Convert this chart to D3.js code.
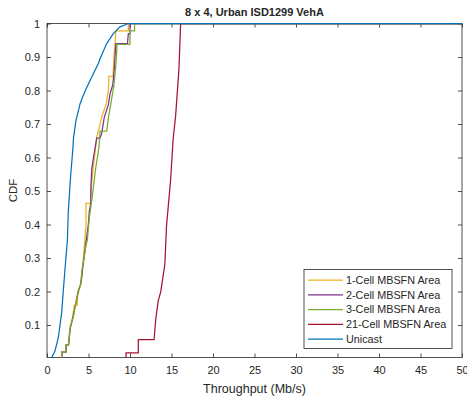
<!DOCTYPE html>
<html>
<head>
<meta charset="utf-8">
<script src="https://cdn.jsdelivr.net/npm/d3@7"></script>
<style>
  body { margin: 0; background: #fff; }
  svg text { font-family: "Liberation Sans", Arial, sans-serif; fill: #262626; }
</style>
</head>
<body>
<div id="chart"></div>
<script>
// each series: [throughput Mb/s, CDF] knots
var oneCell = [[0,0],[1.75,0],[1.75,0.019],[2.3,0.019],[2.3,0.041],[2.6,0.041],[2.75,0.09],[3.05,0.12],
  [3.3,0.159],[3.65,0.159],[3.7,0.19],[3.95,0.21],[4.2,0.245],[4.45,0.32],[4.7,0.40],[4.7,0.463],
  [5.27,0.463],[5.3,0.50],[5.58,0.572],[5.99,0.661],[6.3,0.69],[6.59,0.721],[7.1,0.757],[7.4,0.80],
  [7.45,0.842],[7.95,0.842],[8.1,0.916],[8.2,0.941],[8.3,0.978],[9.8,0.978],[9.8,1],[50,1]];
var twoCell = [[0,0],[1.8,0],[1.8,0.019],[2.3,0.019],[2.3,0.041],[2.6,0.041],[2.8,0.09],[3.15,0.125],
  [3.55,0.175],[3.8,0.205],[4.1,0.225],[4.3,0.27],[4.55,0.32],[4.86,0.378],[4.98,0.40],[5.1,0.44],
  [5.27,0.463],[5.3,0.52],[5.4,0.567],[5.6,0.60],[5.99,0.658],[6.39,0.658],[6.59,0.672],[6.9,0.72],
  [7.39,0.757],[7.6,0.79],[7.92,0.817],[8.1,0.86],[8.2,0.90],[8.3,0.94],[9.7,0.94],[9.8,0.97],
  [10.0,0.97],[10.0,1],[50,1]];
var threeCell = [[0,0],[1.77,0],[1.77,0.019],[2.29,0.019],[2.29,0.041],[2.57,0.041],[2.77,0.09],
  [3.17,0.124],[3.58,0.179],[3.77,0.203],[4.06,0.22],[4.18,0.259],[4.46,0.298],[4.70,0.338],
  [4.86,0.353],[5.1,0.42],[5.5,0.492],[5.85,0.565],[6.27,0.632],[6.39,0.679],[7.2,0.679],[7.4,0.72],
  [7.67,0.757],[8.07,0.817],[8.28,0.87],[8.45,0.938],[10.0,0.938],[10.0,0.978],[10.55,0.978],
  [10.55,1],[50,1]];
var cell21 = [[0,0],[9.52,0],[9.52,0.017],[11.0,0.017],[11.0,0.056],[12.9,0.056],[13.1,0.117],
  [13.4,0.172],[13.7,0.199],[14.2,0.281],[14.4,0.396],[14.9,0.536],[15.2,0.656],[15.5,0.725],
  [15.9,0.865],[16.1,1],[50,1]];
var unicast = [[0,0],[0.16,0],[0.57,0.003],[0.96,0.022],[1.36,0.062],[1.77,0.137],[1.96,0.202],
  [2.25,0.292],[2.45,0.35],[2.57,0.44],[2.86,0.55],[3.1,0.62],[3.2,0.66],[3.49,0.71],[3.98,0.76],
  [4.37,0.785],[4.8,0.81],[5.58,0.85],[6.18,0.88],[6.39,0.895],[7.19,0.94],[7.99,0.97],[8.8,0.99],
  [9.8,1],[50,1]];

var seriesNames  = ["1-Cell MBSFN Area", "2-Cell MBSFN Area", "3-Cell MBSFN Area", "21-Cell MBSFN Area", "Unicast"];
var seriesColors = ["#EDB120", "#7E2F8E", "#77AC30", "#A2142F", "#0072BD"];
var seriesData   = [oneCell, twoCell, threeCell, cell21, unicast];
var xTicks = [0, 5, 10, 15, 20, 25, 30, 35, 40, 45, 50];
var yTicks = [0.1, 0.2, 0.3, 0.4, 0.5, 0.6, 0.7, 0.8, 0.9, 1];

var W = 467, H = 400;
var margin = { top: 23.5, right: 5, bottom: 42.5, left: 47 };
var iW = W - margin.left - margin.right;
var iH = H - margin.top - margin.bottom;

var svg = d3.select("#chart").append("svg")
    .attr("width", W).attr("height", H);
var g = svg.append("g")
    .attr("transform", "translate(" + margin.left + "," + margin.top + ")");

var x = d3.scaleLinear().domain([0, 50]).range([0, iW]);
var y = d3.scaleLinear().domain([0.003, 1]).range([iH, 0]);

g.append("defs").append("clipPath").attr("id", "clip")
  .append("rect").attr("x", 0).attr("y", -1).attr("width", iW).attr("height", iH + 1);

// axes (ticks inside, box on)
var axCol = "#262626";
function styleAxis(sel) {
    sel.select(".domain").remove();
    sel.selectAll("line").attr("stroke", axCol).attr("stroke-width", 0.8);
    sel.selectAll("text").style("font-size", "11px").attr("fill", axCol);
}
g.append("g").attr("transform", "translate(0," + iH + ")")
  .call(d3.axisBottom(x).tickValues(xTicks).tickSize(-4).tickPadding(9).tickFormat(d3.format("d")))
  .call(styleAxis);
g.append("g")
  .call(d3.axisTop(x).tickValues(xTicks).tickSize(-4).tickFormat(""))
  .call(styleAxis);
g.append("g")
  .call(d3.axisLeft(y).tickValues(yTicks).tickSize(-4).tickPadding(7).tickFormat(function (v) { return v === 1 ? "1" : d3.format(".1f")(v); }))
  .call(styleAxis);
g.append("g").attr("transform", "translate(" + iW + ",0)")
  .call(d3.axisRight(y).tickValues(yTicks).tickSize(-4).tickFormat(""))
  .call(styleAxis);

g.append("rect")
  .attr("width", iW).attr("height", iH)
  .attr("fill", "none").attr("stroke", axCol).attr("stroke-width", 0.8);

// curves
var line = d3.line()
    .x(function (d) { return x(d[0]); })
    .y(function (d) { return y(d[1]); });

seriesData.forEach(function (s, i) {
    g.append("path")
      .datum(s)
      .attr("clip-path", "url(#clip)")
      .attr("fill", "none")
      .attr("stroke", seriesColors[i])
      .attr("stroke-width", 1.25)
      .attr("d", line);
});

// labels
svg.append("text")
  .attr("x", margin.left + iW / 2).attr("y", 16)
  .attr("text-anchor", "middle")
  .style("font-size", "11px").style("font-weight", "bold")
  .attr("fill", "#000")
  .text("8 x 4, Urban ISD1299 VehA");

svg.append("text")
  .attr("x", margin.left + iW / 2).attr("y", 393)
  .attr("text-anchor", "middle")
  .style("font-size", "12.5px")
  .text("Throughput (Mb/s)");

svg.append("text")
  .attr("transform", "translate(17," + (margin.top + iH / 2) + ") rotate(-90)")
  .attr("text-anchor", "middle")
  .style("font-size", "11.5px")
  .text("CDF");

// legend
var legend = svg.append("g").attr("transform", "translate(304,269.5)");
legend.append("rect")
  .attr("width", 148).attr("height", 79)
  .attr("fill", "#fff").attr("stroke", axCol).attr("stroke-width", 0.8);
seriesNames.forEach(function (name, i) {
    var ly = 10.5 + i * 14.8;
    legend.append("line")
      .attr("x1", 4).attr("x2", 39).attr("y1", ly).attr("y2", ly)
      .attr("stroke", seriesColors[i]).attr("stroke-width", 1.25);
    legend.append("text")
      .attr("x", 42).attr("y", ly + 3.8)
      .style("font-size", "10.8px")
      .attr("fill", "#000")
      .text(name);
});
</script>
</body>
</html>
